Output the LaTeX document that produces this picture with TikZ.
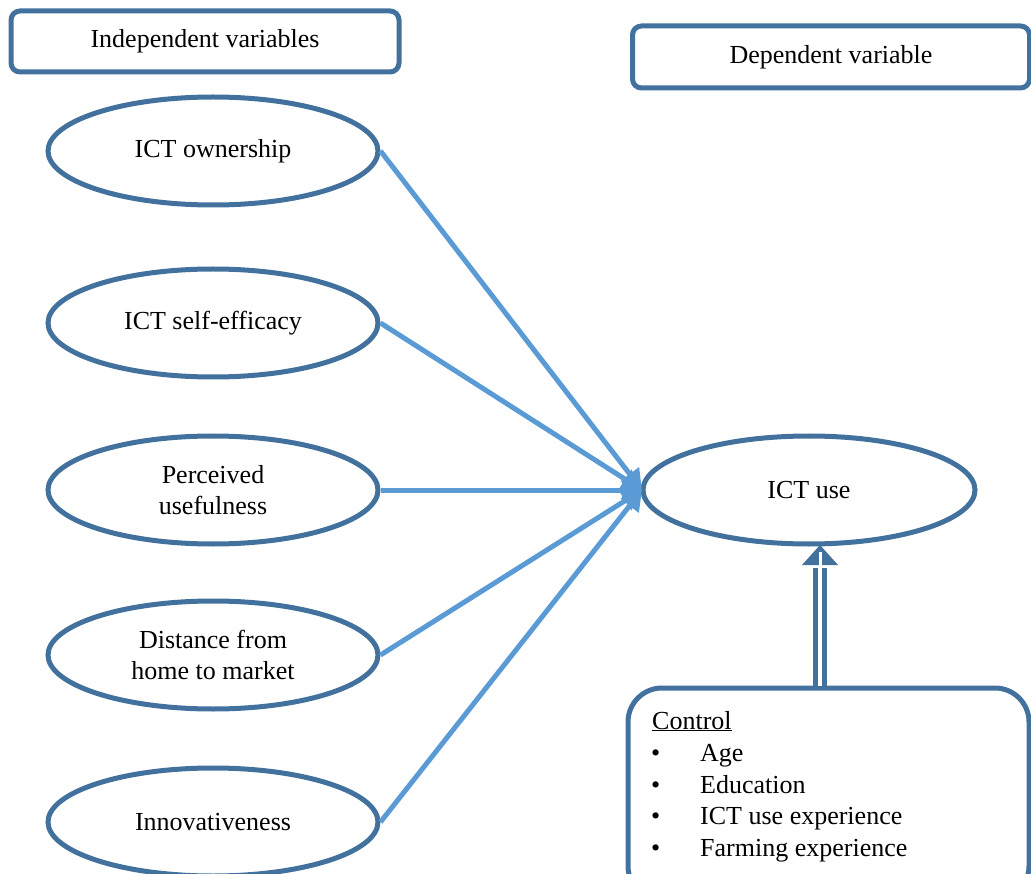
\documentclass[tikz,border=0pt]{standalone}
\usepackage{fontspec}
\setmainfont{Liberation Serif}
\usetikzlibrary{shapes.geometric,arrows.meta}
\definecolor{dkblue}{RGB}{65,113,156}
\definecolor{ltblue}{RGB}{91,155,213}
\begin{document}
\begin{tikzpicture}[x=1pt,y=-1pt,
  txt/.style={font=\fontsize{26}{31}\selectfont},
  hbox/.style={draw=dkblue,line width=5pt,rounded corners=9pt,txt,inner sep=0pt},
  oval/.style={ellipse,draw=dkblue,line width=5pt,minimum width=330pt,minimum height=108pt,inner sep=0pt,txt,align=center},
  link/.style={draw=ltblue,line width=5pt,-{Triangle[width=22pt,length=20pt]}}]
\useasboundingbox (0,0) rectangle (1031,874);
\node[hbox,minimum width=388pt,minimum height=61pt] (indep) at (205,41.5) {Independent variables};
\node[hbox,minimum width=397pt,minimum height=62pt] (dep) at (831,57) {Dependent variable};
\node[oval] (o1) at (213,151) {ICT ownership};
\node[oval] (o2) at (213,323) {ICT self-efficacy};
\node[oval] (o3) at (213,490) {Perceived\\usefulness};
\node[oval] (o4) at (213,655) {Distance from\\home to market};
\node[oval] (o5) at (213,822) {Innovativeness};
\node[oval,minimum width=332pt] (use) at (809,490) {ICT use};
\coordinate (tip) at (642,490);
\foreach \o in {o1,o2,o3,o4,o5}{
  \draw[link] (\o.east) -- (tip);
}
% control box
\node[draw=dkblue,line width=5pt,rounded corners=34pt,minimum width=401pt,minimum height=212pt,inner sep=0pt] (cbox) at (828.5,794) {};
\coordinate (ctop) at (820,686);
\coordinate (cbot) at (820,545);
\draw[dkblue,line width=4.5pt,double=white,double distance=4.5pt] (ctop) -- (820,568);
\fill[dkblue] (cbot) -- (838,565) -- (802,565) -- cycle;
\draw[white,line width=3pt] (820,552) -- (820,570);
\node[txt,anchor=base west,inner sep=0pt] (ctl) at (652,729) {\underline{Control}};
\foreach \y/\t in {761/Age,793/Education,824/ICT use experience,856/Farming experience}{
  \node[txt,anchor=base west,inner sep=0pt] at (651,\y) {•};
  \node[txt,anchor=base west,inner sep=0pt] at (700,\y) {\t};
}
\end{tikzpicture}
\end{document}
